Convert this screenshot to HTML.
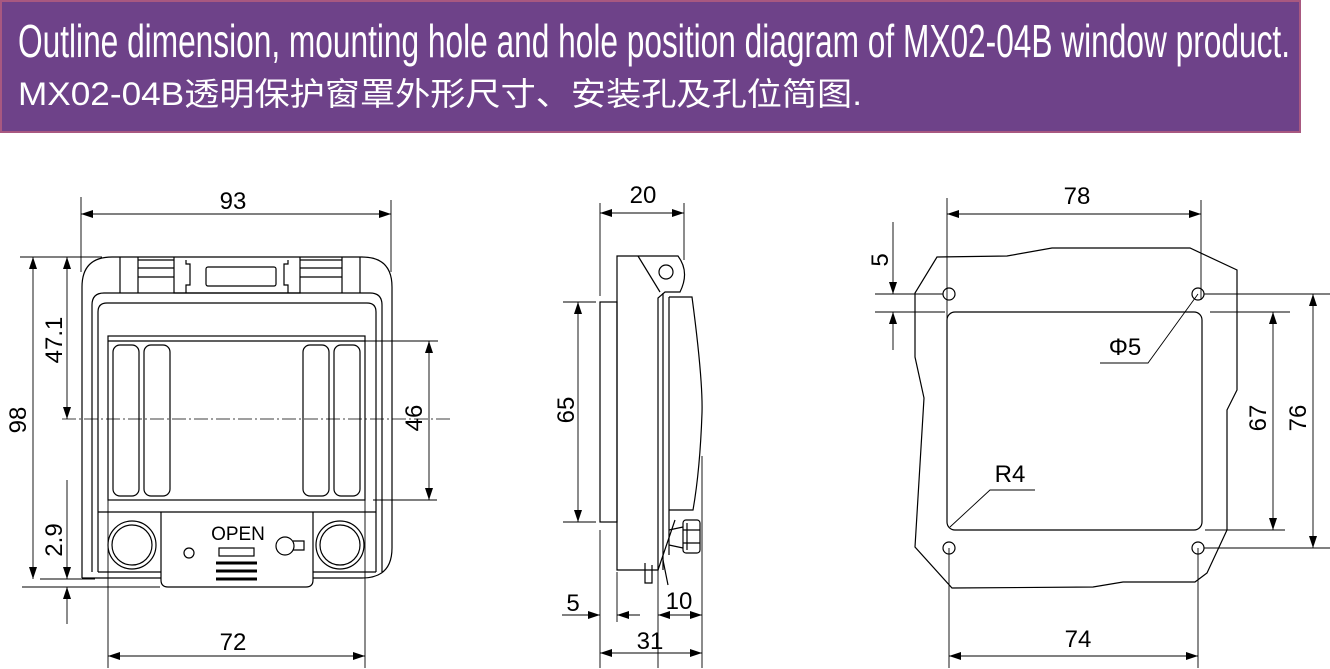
<!DOCTYPE html>
<html><head><meta charset="utf-8">
<style>html,body{margin:0;padding:0;background:#fff;}svg{display:block;}</style>
</head><body>
<svg width="1330" height="669" viewBox="0 0 1330 669" xmlns="http://www.w3.org/2000/svg" font-family="Liberation Sans, sans-serif">
<defs>
<marker id="a" viewBox="0 0 12 8" refX="12" refY="4" markerWidth="12" markerHeight="8" markerUnits="userSpaceOnUse" orient="auto"><path d="M0,0 L12,4 L0,8 z" fill="#000"/></marker>
<marker id="b" viewBox="0 0 12 8" refX="0" refY="4" markerWidth="12" markerHeight="8" markerUnits="userSpaceOnUse" orient="auto"><path d="M12,0 L0,4 L12,8 z" fill="#000"/></marker>
</defs>
<rect x="1" y="1" width="1299" height="131" fill="#6e4289" stroke="#a85880" stroke-width="2"/>
<text x="18" y="57" font-size="46" fill="#fff" textLength="1272" lengthAdjust="spacingAndGlyphs">Outline dimension, mounting hole and hole position diagram of MX02-04B window product.</text>
<text x="18" y="105" font-size="32" fill="#fff" font-family="Liberation Sans, Noto Sans CJK SC, sans-serif" textLength="844" lengthAdjust="spacingAndGlyphs">MX02-04B透明保护窗罩外形尺寸、安装孔及孔位简图.</text>

<g fill="none" stroke="#000" stroke-width="1.2">
<!-- LEFT -->
<path d="M82,578 L82,287 Q82,257 112,257 L362,257 Q392,257 392,287 L392,548 Q392,578 362,578 L313,578"/>
<path d="M161,578 L82,578"/>
<path d="M92,572 L92,305 Q92,293 104,293 L370,293 Q382,293 382,305 L382,572"/>
<path d="M98,572 L98,312 Q98,303 107,303 L367,303 Q376,303 376,312 L376,572"/>
<path d="M98,572 L161,572 M313,572 L376,572"/>
<line x1="120" y1="257" x2="120" y2="293"/><line x1="138" y1="257" x2="138" y2="293"/>
<line x1="342" y1="257" x2="342" y2="293"/><line x1="360" y1="257" x2="360" y2="293"/>
<line x1="138" y1="260" x2="174" y2="260"/><line x1="138" y1="268" x2="174" y2="268"/><line x1="138" y1="277" x2="174" y2="277"/>
<line x1="300" y1="260" x2="342" y2="260"/><line x1="300" y1="268" x2="342" y2="268"/><line x1="300" y1="277" x2="342" y2="277"/>
<path d="M174,257 L174,293 L300,293 L300,257"/>
<path d="M186,260 L186,264 L190,264 L190,285 L186,285 L186,293 M288,260 L288,264 L284,264 L284,285 L288,285 L288,293"/>
<rect x="206" y="267" width="70" height="19" rx="2"/>
<rect x="108" y="336" width="257" height="164"/>
<line x1="108" y1="341" x2="365" y2="341"/>
<rect x="113" y="345" width="26" height="151" rx="7"/><rect x="144" y="345" width="26" height="151" rx="7"/>
<rect x="303" y="345" width="26" height="151" rx="7"/><rect x="334" y="345" width="26" height="151" rx="7"/>
<line x1="98" y1="512" x2="376" y2="512"/>
<path d="M161,512 L161,580 Q161,587 168,587 L306,587 Q313,587 313,580 L313,512"/>
<circle cx="132" cy="545" r="24"/><circle cx="132" cy="545" r="20"/>
<circle cx="340" cy="545" r="24"/><circle cx="340" cy="545" r="20"/>
<circle cx="189" cy="553" r="5"/>
<rect x="219" y="548" width="35" height="8"/>
<circle cx="285" cy="546" r="9"/><path d="M293,541 L304,541 L304,550 L293,550"/>
<line x1="216" y1="563" x2="257" y2="563" stroke-width="3"/><line x1="216" y1="571" x2="257" y2="571" stroke-width="3"/><line x1="216" y1="579" x2="257" y2="579" stroke-width="3"/>
<line x1="62" y1="419" x2="453" y2="419" stroke-dasharray="14,3,2,3" stroke-width="0.8"/>
<!-- dims left -->
<g stroke-width="0.9">
<line x1="81" y1="197" x2="81" y2="272"/><line x1="391" y1="200" x2="391" y2="272"/>
<line x1="81" y1="214" x2="391" y2="214" marker-start="url(#b)" marker-end="url(#a)"/>
<line x1="20" y1="257" x2="102" y2="257"/><line x1="40" y1="579" x2="95" y2="579"/><line x1="22" y1="587" x2="160" y2="587"/>
<line x1="33" y1="257" x2="33" y2="579" marker-start="url(#b)" marker-end="url(#a)"/>
<line x1="67" y1="257" x2="67" y2="419" marker-start="url(#b)" marker-end="url(#a)"/>
<line x1="67" y1="480" x2="67" y2="579" marker-end="url(#a)"/>
<line x1="67" y1="624" x2="67" y2="587" marker-end="url(#a)"/>
<line x1="365" y1="341" x2="438" y2="341"/><line x1="373" y1="500" x2="437" y2="500"/>
<line x1="429" y1="341" x2="429" y2="500" marker-start="url(#b)" marker-end="url(#a)"/>
<line x1="108" y1="500" x2="108" y2="668"/><line x1="365" y1="500" x2="365" y2="668"/>
<line x1="108" y1="656" x2="365" y2="656" marker-start="url(#b)" marker-end="url(#a)"/>
</g>
<!-- MIDDLE -->
<rect x="600" y="302" width="17" height="220"/>
<path d="M617,256 L678,256 Q690,272 680,292 L665,292 L658,298 L658,570 L617,570 Z"/>
<path d="M638,256 L660,292"/>
<circle cx="666" cy="272" r="7"/>
<line x1="663" y1="293" x2="663" y2="570"/><line x1="669" y1="297" x2="669" y2="555"/>
<path d="M669,297 L692,297 Q703,380 702,413 Q700,470 693,510 L669,510"/>
<rect x="683" y="520" width="17" height="33" rx="3"/>
<path d="M669,530 L683,527 M669,545 L683,548 M687,523 L687,550 M683,530 L700,530 M683,543 L700,543"/>
<path d="M645,563 L645,583 L652,583 L652,565 M663,560 L668,585 M658,570 L675,520"/>
<g stroke-width="0.9">
<line x1="600" y1="203" x2="600" y2="296"/><line x1="684" y1="203" x2="684" y2="260"/>
<line x1="600" y1="213" x2="684" y2="213" marker-start="url(#b)" marker-end="url(#a)"/>
<line x1="563" y1="302" x2="596" y2="302"/><line x1="563" y1="522" x2="596" y2="522"/>
<line x1="578" y1="302" x2="578" y2="522" marker-start="url(#b)" marker-end="url(#a)"/>
<line x1="600" y1="530" x2="600" y2="668"/><line x1="617" y1="572" x2="617" y2="622"/>
<line x1="658" y1="560" x2="658" y2="668"/><line x1="702" y1="456" x2="702" y2="668"/>
<line x1="562" y1="615" x2="600" y2="615" marker-end="url(#a)"/>
<line x1="640" y1="615" x2="617" y2="615" marker-end="url(#a)"/>
<line x1="658" y1="615" x2="702" y2="615" marker-start="url(#b)" marker-end="url(#a)"/>
<line x1="600" y1="653" x2="702" y2="653" marker-start="url(#b)" marker-end="url(#a)"/>
</g>
<!-- RIGHT -->
<path d="M937,257 L1007,256 L1052,248 L1190,248 L1237,270 L1237,390 L1227,410 L1227,530 L1207,573 L1195,582 L1123,582 L1093,587 L952,588 L915,547 L924,398 L915,357 L915,293 Z"/>
<rect x="947" y="312" width="255" height="218" rx="8"/>
<circle cx="949" cy="294" r="6"/><circle cx="1198" cy="294" r="6"/>
<circle cx="949" cy="548" r="6"/><circle cx="1198" cy="548" r="6"/>
<g stroke-width="0.9">
<line x1="947" y1="198" x2="947" y2="383"/><line x1="1201" y1="200" x2="1201" y2="300"/>
<line x1="947" y1="214" x2="1201" y2="214" marker-start="url(#b)" marker-end="url(#a)"/>
<line x1="875" y1="294" x2="943" y2="294"/><line x1="1204" y1="294" x2="1330" y2="294"/>
<line x1="875" y1="312" x2="945" y2="312"/><line x1="1210" y1="312" x2="1290" y2="312"/>
<line x1="1205" y1="530" x2="1285" y2="530"/><line x1="1204" y1="548" x2="1330" y2="548"/>
<line x1="893" y1="222" x2="893" y2="294" marker-end="url(#a)"/>
<line x1="893" y1="350" x2="893" y2="312" marker-end="url(#a)"/>
<path d="M1198,294 L1148,363 L1100,363"/>
<path d="M950,527 L990,490 L1035,490"/>
<line x1="1273" y1="312" x2="1273" y2="530" marker-start="url(#b)" marker-end="url(#a)"/>
<line x1="1313" y1="294" x2="1313" y2="548" marker-start="url(#b)" marker-end="url(#a)"/>
<line x1="949" y1="548" x2="949" y2="668"/><line x1="1198" y1="548" x2="1198" y2="668"/>
<line x1="949" y1="656" x2="1198" y2="656" marker-start="url(#b)" marker-end="url(#a)"/>
</g>
</g>
<g font-size="24" fill="#000" text-anchor="middle">
<text x="233" y="209">93</text>
<text x="233" y="650">72</text>
<text x="643" y="203">20</text>
<text x="650" y="649">31</text>
<text x="573" y="611">5</text>
<text x="679" y="609">10</text>
<text x="1077" y="204">78</text>
<text x="1078" y="647">74</text>
<text x="1125" y="355">Φ5</text>
<text x="1010" y="482">R4</text>
<text x="238" y="540" font-size="19">OPEN</text>
<text transform="translate(26,420) rotate(-90)">98</text>
<text transform="translate(62,340) rotate(-90)">47.1</text>
<text transform="translate(62,540) rotate(-90)">2.9</text>
<text transform="translate(422,418) rotate(-90)">46</text>
<text transform="translate(574,410) rotate(-90)">65</text>
<text transform="translate(888,260) rotate(-90)">5</text>
<text transform="translate(1266,418) rotate(-90)">67</text>
<text transform="translate(1306,418) rotate(-90)">76</text>
</g>
</svg>
</body></html>
